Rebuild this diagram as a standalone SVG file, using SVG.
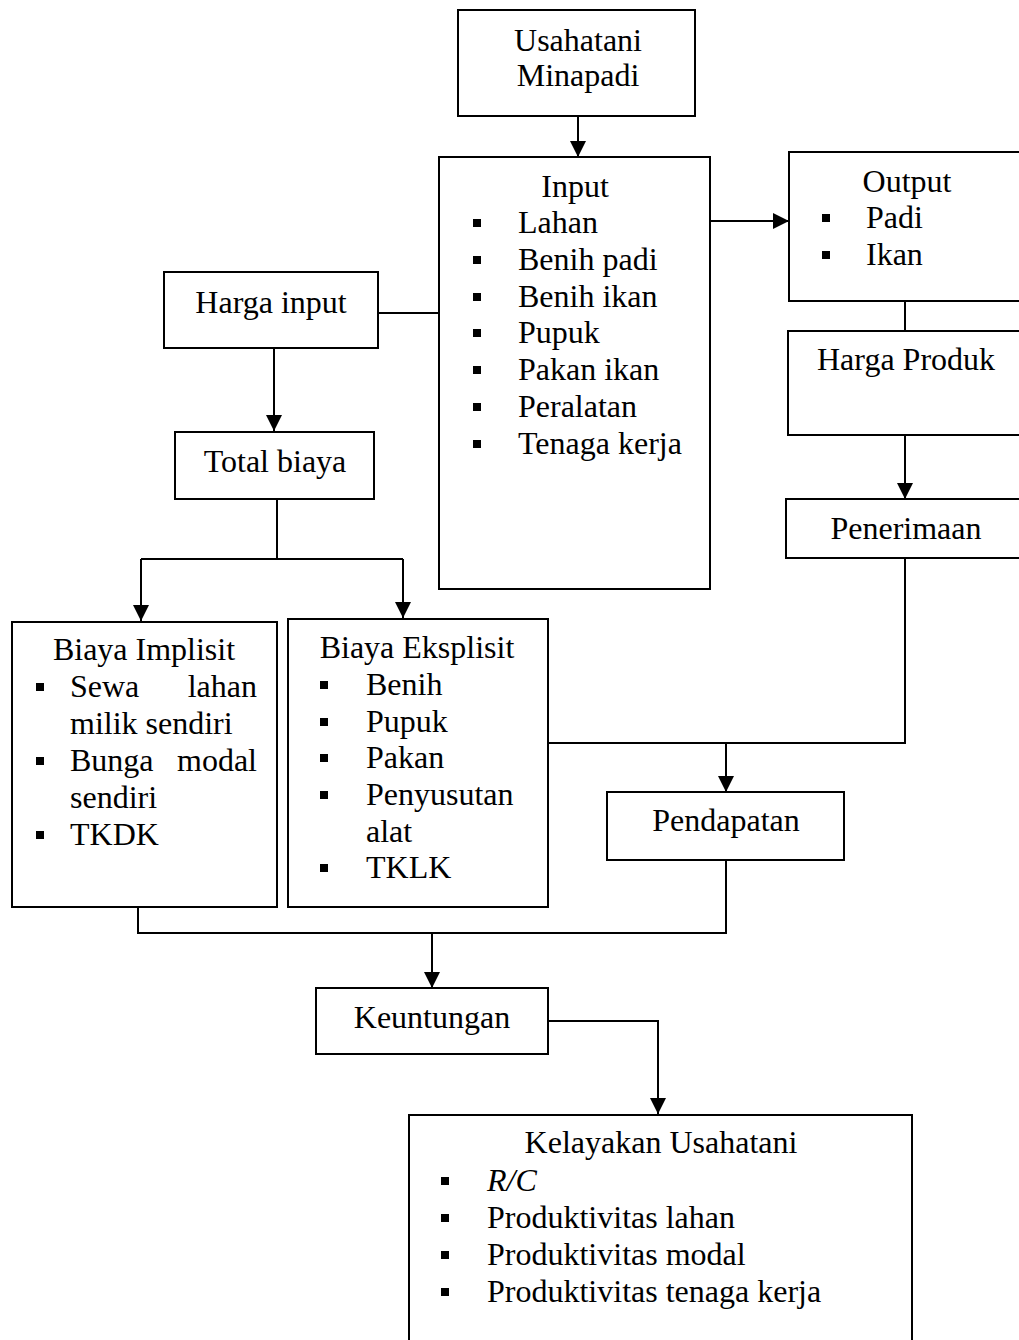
<svg xmlns="http://www.w3.org/2000/svg" width="1019" height="1340" viewBox="0 0 1019 1340">
<style>
.box{fill:#fff;stroke:#000;stroke-width:2}
.t{font-family:"Liberation Serif","Times New Roman",serif;font-size:32px;fill:#000}
.c{text-anchor:middle}
.b{fill:#000}
.ln{fill:none;stroke:#000;stroke-width:2}
</style>
<defs>
<marker id="ah" markerUnits="userSpaceOnUse" markerWidth="16" markerHeight="16" refX="16" refY="8" orient="auto">
<path d="M0,0 L16,8 L0,16 z" fill="#000"/>
</marker>
</defs>
<rect width="1019" height="1340" fill="#fff"/>
<g id="connectors">
<path class="ln" d="M578,116 V157" marker-end="url(#ah)"/>
<path class="ln" d="M378,313 H439"/>
<path class="ln" d="M274,348 V431" marker-end="url(#ah)"/>
<path class="ln" d="M277,499 V559 M141,559 H403"/>
<path class="ln" d="M141,559 V621" marker-end="url(#ah)"/>
<path class="ln" d="M403,559 V618" marker-end="url(#ah)"/>
<path class="ln" d="M710,221 H789" marker-end="url(#ah)"/>
<path class="ln" d="M905,301 V331"/>
<path class="ln" d="M905,435 V499" marker-end="url(#ah)"/>
<path class="ln" d="M905,558 V743 H548"/>
<path class="ln" d="M726,743 V792" marker-end="url(#ah)"/>
<path class="ln" d="M726,860 V933 H138 V907"/>
<path class="ln" d="M432,933 V988" marker-end="url(#ah)"/>
<path class="ln" d="M548,1021 H658 V1114" marker-end="url(#ah)"/>
</g>
<g id="usahatani">
<rect class="box" x="458" y="10" width="237" height="106"/>
<text class="t c" x="578" y="51">Usahatani</text>
<text class="t c" x="578" y="86">Minapadi</text>
</g>
<g id="input">
<rect class="box" x="439" y="157" width="271" height="432"/>
<text class="t c" x="575" y="197">Input</text>
<rect class="b" x="473" y="219" width="8" height="8"/>
<rect class="b" x="473" y="256" width="8" height="8"/>
<rect class="b" x="473" y="293" width="8" height="8"/>
<rect class="b" x="473" y="329" width="8" height="8"/>
<rect class="b" x="473" y="366" width="8" height="8"/>
<rect class="b" x="473" y="403" width="8" height="8"/>
<rect class="b" x="473" y="440" width="8" height="8"/>
<text class="t" x="518" y="233">Lahan</text>
<text class="t" x="518" y="270">Benih padi</text>
<text class="t" x="518" y="307">Benih ikan</text>
<text class="t" x="518" y="343">Pupuk</text>
<text class="t" x="518" y="380">Pakan ikan</text>
<text class="t" x="518" y="417">Peralatan</text>
<text class="t" x="518" y="454">Tenaga kerja</text>
</g>
<g id="harga-input">
<rect class="box" x="164" y="272" width="214" height="76"/>
<text class="t c" x="271" y="313">Harga input</text>
</g>
<g id="total-biaya">
<rect class="box" x="175" y="432" width="199" height="67"/>
<text class="t c" x="275" y="472">Total biaya</text>
</g>
<g id="output">
<rect class="box" x="789" y="152" width="250" height="149"/>
<text class="t c" x="907" y="192">Output</text>
<rect class="b" x="822" y="214" width="8" height="8"/>
<rect class="b" x="822" y="251" width="8" height="8"/>
<text class="t" x="866" y="228">Padi</text>
<text class="t" x="866" y="265">Ikan</text>
</g>
<g id="harga-produk">
<rect class="box" x="788" y="331" width="250" height="104"/>
<text class="t" x="817" y="370">Harga Produk</text>
</g>
<g id="penerimaan">
<rect class="box" x="786" y="499" width="250" height="59"/>
<text class="t c" x="906" y="539">Penerimaan</text>
</g>
<g id="biaya-implisit">
<rect class="box" x="12" y="622" width="265" height="285"/>
<text class="t c" x="144" y="660">Biaya Implisit</text>
<rect class="b" x="36" y="683" width="8" height="8"/>
<rect class="b" x="36" y="757" width="8" height="8"/>
<rect class="b" x="36" y="831" width="8" height="8"/>
<text class="t" y="697"><tspan x="70">Sewa</tspan><tspan x="257" text-anchor="end">lahan</tspan></text>
<text class="t" x="70" y="734">milik sendiri</text>
<text class="t" y="771"><tspan x="70">Bunga</tspan><tspan x="257" text-anchor="end">modal</tspan></text>
<text class="t" x="70" y="808">sendiri</text>
<text class="t" x="70" y="845">TKDK</text>
</g>
<g id="biaya-eksplisit">
<rect class="box" x="288" y="619" width="260" height="288"/>
<text class="t c" x="417" y="658">Biaya Eksplisit</text>
<rect class="b" x="320" y="681" width="8" height="8"/>
<rect class="b" x="320" y="718" width="8" height="8"/>
<rect class="b" x="320" y="754" width="8" height="8"/>
<rect class="b" x="320" y="791" width="8" height="8"/>
<rect class="b" x="320" y="864" width="8" height="8"/>
<text class="t" x="366" y="695">Benih</text>
<text class="t" x="366" y="732">Pupuk</text>
<text class="t" x="366" y="768">Pakan</text>
<text class="t" x="366" y="805">Penyusutan</text>
<text class="t" x="366" y="842">alat</text>
<text class="t" x="366" y="878">TKLK</text>
</g>
<g id="pendapatan">
<rect class="box" x="607" y="792" width="237" height="68"/>
<text class="t c" x="726" y="831">Pendapatan</text>
</g>
<g id="keuntungan">
<rect class="box" x="316" y="988" width="232" height="66"/>
<text class="t c" x="432" y="1028">Keuntungan</text>
</g>
<g id="kelayakan-usahatani">
<rect class="box" x="409" y="1115" width="503" height="240"/>
<text class="t c" x="661" y="1153">Kelayakan Usahatani</text>
<rect class="b" x="441" y="1177" width="8" height="8"/>
<rect class="b" x="441" y="1214" width="8" height="8"/>
<rect class="b" x="441" y="1251" width="8" height="8"/>
<rect class="b" x="441" y="1288" width="8" height="8"/>
<text class="t" x="487" y="1191" font-style="italic">R/C</text>
<text class="t" x="487" y="1228">Produktivitas lahan</text>
<text class="t" x="487" y="1265">Produktivitas modal</text>
<text class="t" x="487" y="1302">Produktivitas tenaga kerja</text>
</g>
</svg>
